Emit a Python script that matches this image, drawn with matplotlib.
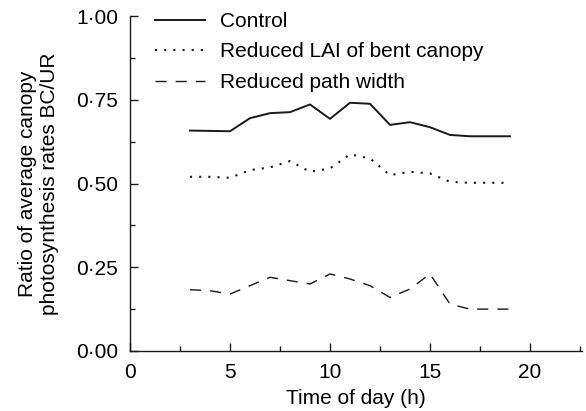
import matplotlib
matplotlib.use("Agg")
import matplotlib.pyplot as plt
from matplotlib.ticker import FuncFormatter, MultipleLocator

plt.rcParams['font.family'] = ['Liberation Sans', 'DejaVu Sans']

hours = [3, 4, 5, 6, 7, 8, 9, 10, 11, 12, 13, 14, 15, 16, 17, 18, 19]
control = [0.658, 0.657, 0.656, 0.695, 0.710, 0.713, 0.736, 0.693, 0.741,
           0.738, 0.675, 0.683, 0.668, 0.645, 0.641, 0.641, 0.641]
reduced_lai = [0.520, 0.520, 0.517, 0.540, 0.548, 0.567, 0.535, 0.545, 0.587,
               0.575, 0.525, 0.535, 0.530, 0.505, 0.502, 0.502, 0.502]
reduced_path = [0.183, 0.180, 0.170, 0.195, 0.220, 0.210, 0.200, 0.230, 0.215,
                0.195, 0.160, 0.185, 0.230, 0.140, 0.125, 0.125, 0.125]

col = '#1a1a1a'
fs = 15

fig = plt.figure(figsize=(5.86, 4.11), dpi=100)
ax = fig.add_axes([130 / 586, 1 - 351 / 411, 452 / 586, 335 / 411])

ax.plot(hours, control, color=col, lw=1.4, label='Control')
ax.plot(hours, reduced_lai, color=col, lw=1.5, linestyle=(0, (1, 3.4)),
        label='Reduced LAI of bent canopy')
ax.plot(hours, reduced_path, color=col, lw=1.0, linestyle=(0, (8, 6.5)),
        label='Reduced path width')

ax.set_xlim(0, 22.6)
ax.set_ylim(0, 1.0)
ax.xaxis.set_major_locator(MultipleLocator(5))
ax.xaxis.set_minor_locator(MultipleLocator(2.5))
ax.yaxis.set_major_locator(MultipleLocator(0.25))
ax.yaxis.set_minor_locator(MultipleLocator(0.125))
ax.yaxis.set_major_formatter(
    FuncFormatter(lambda v, p: ('%.2f' % v).replace('.', '\u00b7')))

for s in ['top', 'right']:
    ax.spines[s].set_visible(False)
for s in ['left', 'bottom']:
    ax.spines[s].set_linewidth(1.0)
    ax.spines[s].set_color(col)
    ax.spines[s].set_clip_on(False)

ax.tick_params(which='major', direction='in', length=6, width=1.0, color=col,
               labelsize=fs)
ax.tick_params(which='minor', direction='in', length=3.6, width=1.0, color=col)
ax.tick_params(axis='x', which='major', pad=8.4)
ax.tick_params(axis='y', which='major', pad=8.6)

ax.set_xlabel('Time of day (h)', fontsize=fs, labelpad=5)
ax.set_ylabel('Ratio of average canopy\nphotosynthesis rates BC/UR', fontsize=fs,
              labelpad=12, linespacing=1.25)

ax.legend(loc='upper left', bbox_to_anchor=(25 / 452, 1.012), frameon=False,
          fontsize=fs, handlelength=2.4, handletextpad=0.7, borderpad=0,
          borderaxespad=0, labelspacing=0.55)

fig.savefig('out.png', dpi=100)
